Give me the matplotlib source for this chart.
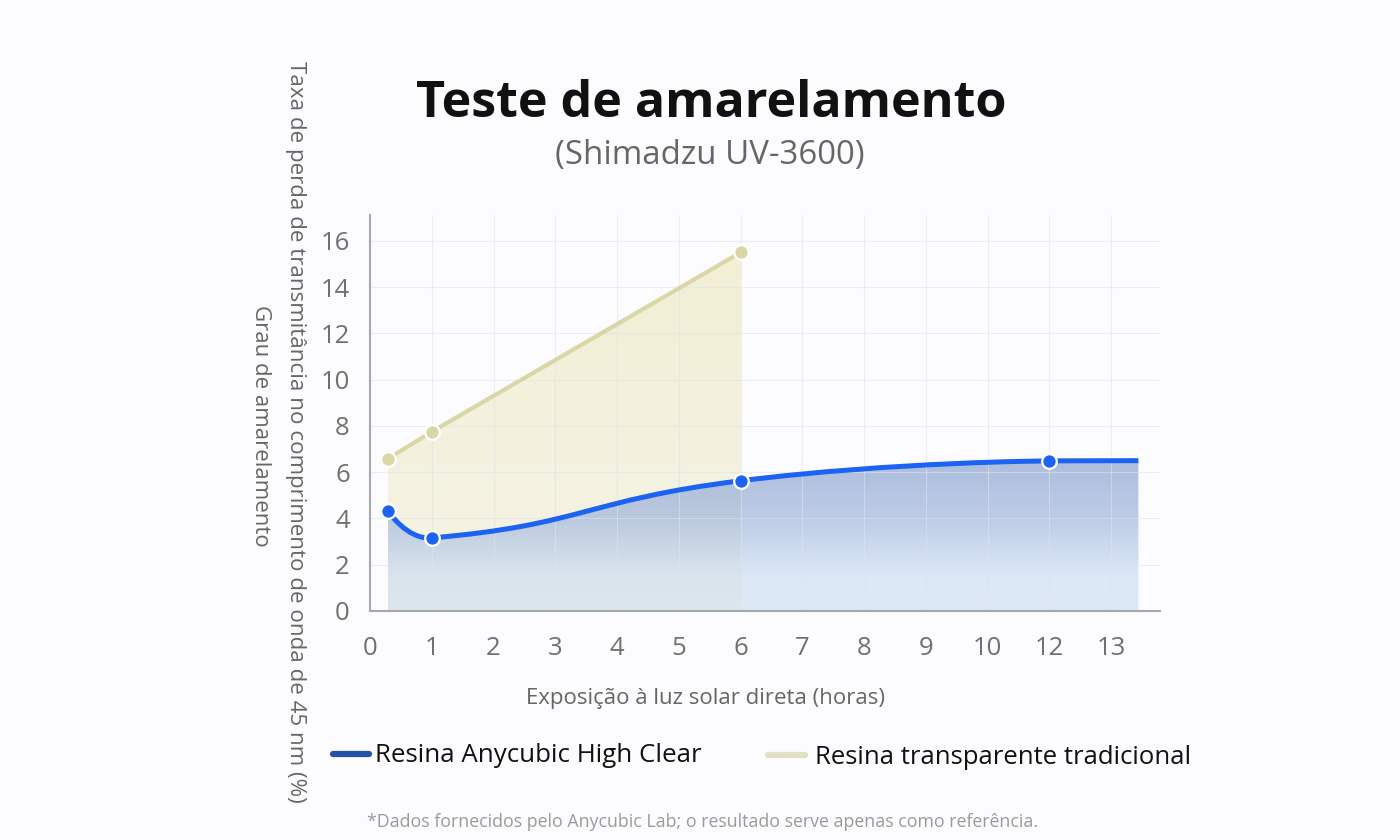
import numpy as np
import matplotlib
matplotlib.use('Agg')
import matplotlib.pyplot as plt
from matplotlib.path import Path
from matplotlib.patches import PathPatch
from matplotlib.lines import Line2D

plt.rcParams['font.family'] = ['Open Sans', 'DejaVu Sans']

# =============================================================================
# DATA
# =============================================================================
title = 'Teste de amarelamento'
subtitle = '(Shimadzu UV-3600)'
x_label = 'Exposição à luz solar direta (horas)'
y_label_1 = 'Taxa de perda de transmitância no comprimento de onda de 45 nm (%)'
y_label_2 = 'Grau de amarelamento'
footnote = '*Dados fornecidos pelo Anycubic Lab; o resultado serve apenas como referência.'

# category axis: labels sit on evenly spaced slots (note 11 is skipped)
x_tick_labels = ['0', '1', '2', '3', '4', '5', '6', '7', '8', '9', '10', '12', '13']
y_ticks = [0, 2, 4, 6, 8, 10, 12, 14, 16]

blue_name = 'Resina Anycubic High Clear'
blue_x = [0.29, 1, 6, 11]
blue_y = [4.33, 3.16, 5.63, 6.49]
blue_tail_x = 12.44          # line continues flat to here, no marker
blue_tail_y = 6.50

yellow_name = 'Resina transparente tradicional'
yellow_x = [0.29, 1, 6]
yellow_y = [6.58, 7.75, 15.5]

# =============================================================================
# HELPERS
# =============================================================================
BG = '#fcfcfe'
BLUE = '#1c63f2'
YELLOW = '#dad6a6'
PX_X, PX_Y = 61.75, 23.125   # pixel size of one data unit (for smoothing)


def smooth_curve(xs, ys, smooth=0.5):
    """Bezier path through the points, echarts-like smoothing."""
    pts = np.column_stack([np.asarray(xs) * PX_X, np.asarray(ys) * PX_Y])
    n = len(pts)

    def controls(i):
        p = pts[i]
        if i == 0 or i == n - 1:
            return p, p
        prev, nxt = pts[i - 1], pts[i + 1]
        v = nxt - prev
        d0 = np.hypot(*(p - prev))
        d1 = np.hypot(*(p - nxt))
        tot = d0 + d1
        return p - v * smooth * d0 / tot, p + v * smooth * d1 / tot

    verts = [pts[0]]
    codes = [Path.MOVETO]
    for i in range(n - 1):
        _, c1 = controls(i)
        c2, _ = controls(i + 1)
        verts += [c1, c2, pts[i + 1]]
        codes += [Path.CURVE4] * 3
    verts = list(np.array(verts) / [PX_X, PX_Y])
    return verts, codes


def area_path(verts, codes):
    verts = list(verts) + [(verts[-1][0], 0), (verts[0][0], 0), (verts[0][0], 0)]
    codes = list(codes) + [Path.LINETO, Path.LINETO, Path.CLOSEPOLY]
    return Path(np.array(verts), codes)


def gradient_fill(ax, path, top, stops, zorder):
    """Vertical RGBA gradient clipped to path; stops = [(frac_from_top, rgba)]."""
    n = 256
    fr = np.linspace(0, 1, n)
    pos = [s[0] for s in stops]
    cols = np.array([s[1] for s in stops])
    img = np.zeros((n, 1, 4))
    for k in range(4):
        img[:, 0, k] = np.interp(fr, pos, cols[:, k])
    x0, x1 = path.vertices[:, 0].min(), path.vertices[:, 0].max()
    im = ax.imshow(img, extent=[x0, x1, 0, top], origin='upper',
                   aspect='auto', zorder=zorder, interpolation='bilinear')
    patch = PathPatch(path, transform=ax.transData, facecolor='none', edgecolor='none')
    ax.add_patch(patch)
    im.set_clip_path(patch)


def rgba(r, g, b, a):
    return (r / 255, g / 255, b / 255, a)


# =============================================================================
# FIGURE
# =============================================================================
fig = plt.figure(figsize=(14, 8.4), dpi=100, facecolor=BG)
ax = fig.add_axes([370 / 1400, 1 - 611 / 840, 790 / 1400, 396 / 840])
ax.set_facecolor(BG)
ax.set_xlim(0, 12.79)
ax.set_ylim(0, 17.12)

# yellow area (line + fill down to zero)
yv = np.column_stack([yellow_x, yellow_y])
ypath = area_path(yv, [Path.MOVETO] + [Path.LINETO] * (len(yellow_x) - 1))
gradient_fill(ax, ypath, max(yellow_y),
              [(0, rgba(242, 239, 213, 1)), (1, rgba(245, 243, 230, 1))], zorder=1)

# blue area: smoothed through the markers, then flat tail
bverts, bcodes = smooth_curve(blue_x, blue_y)
bverts.append(np.array([blue_tail_x, blue_tail_y]))
bcodes.append(Path.LINETO)
bpath = area_path(bverts, bcodes)
gradient_fill(ax, bpath, max(blue_y + [blue_tail_y]),
              [(0, rgba(145, 169, 211, 0.75)), (0.4, rgba(165, 186, 222, 0.72)),
               (0.78, rgba(204, 222, 243, 0.66)), (1, rgba(206, 223, 244, 0.65))],
              zorder=2)

# grid
for i in range(len(x_tick_labels)):
    ax.axvline(i, color='#dfe3ea', lw=0.8, alpha=0.6, zorder=3)
for v in y_ticks[1:]:
    ax.axhline(v, color='#dfe3ea', lw=0.8, alpha=0.6, zorder=3)

# lines
ax.plot(yellow_x, yellow_y, color=YELLOW, lw=3.0, zorder=4, solid_capstyle='round')
ax.add_patch(PathPatch(Path(np.array(bverts), bcodes), facecolor='none', edgecolor=BLUE,
                       lw=3.6, zorder=5, capstyle='butt'))

# markers
ax.plot(yellow_x, yellow_y, ls='none', marker='o', ms=10.5, mfc=YELLOW,
        mec='white', mew=1.6, zorder=6)
ax.plot(blue_x, blue_y, ls='none', marker='o', ms=10.5, mfc=BLUE, mec='white',
        mew=1.6, zorder=7)

# axes styling
ax.set_xticks(range(len(x_tick_labels)))
ax.set_xticklabels(x_tick_labels)
ax.set_yticks(y_ticks)
ax.tick_params(length=0, labelsize=18.5, labelcolor='#707070')
ax.tick_params(axis='x', pad=18)
ax.tick_params(axis='y', pad=14.5)
for s in ['top', 'right']:
    ax.spines[s].set_visible(False)
for s in ['left', 'bottom']:
    ax.spines[s].set_color('#a8a8a8')
    ax.spines[s].set_linewidth(1.5)
    ax.spines[s].set_zorder(8)

# texts
fig.text(0.508, 1 - 116.7 / 840, title, ha='center', va='baseline', fontsize=36.2,
         fontweight='bold', color='#111111')
fig.text(0.507, 1 - 164.3 / 840, subtitle, ha='center', va='baseline', fontsize=23.8,
         color='#666666')
fig.text(0.504, 1 - 704 / 840, x_label, ha='center', va='baseline', fontsize=16,
         color='#666666')
fig.text(0.2114, 0.486, y_label_1, ha='center', va='center', rotation=270,
         fontsize=16.1, color='#666666')
fig.text(0.1864, 0.493, y_label_2, ha='center', va='center', rotation=270,
         fontsize=16, color='#666666')
fig.text(367 / 1400, 1 - 826.7 / 840, footnote, ha='left', va='baseline', fontsize=12.8,
         color='#9a9a9a')

# legend
fig.add_artist(Line2D([333 / 1400, 369 / 1400], [1 - 753.5 / 840] * 2, color='#2352a8',
                      lw=4.5, solid_capstyle='round'))
fig.text(375 / 1400, 1 - 761.7 / 840, blue_name, ha='left', va='baseline', fontsize=18.6,
         color='#111111')
fig.add_artist(Line2D([768 / 1400, 805 / 1400], [1 - 754.5 / 840] * 2, color='#e2e0c2',
                      lw=4.5, solid_capstyle='round'))
fig.text(815 / 1400, 1 - 764.5 / 840, yellow_name, ha='left', va='baseline', fontsize=18.5,
         color='#111111')

fig.savefig('out.png', dpi=100, facecolor=BG)
